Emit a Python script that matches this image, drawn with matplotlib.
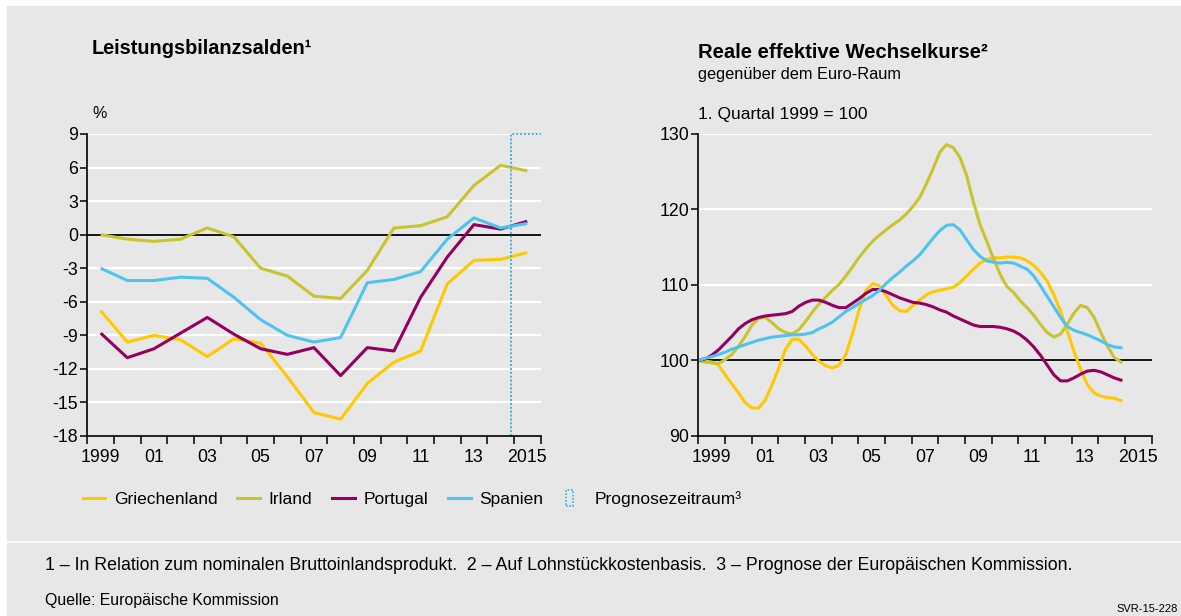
import numpy as np
import matplotlib
matplotlib.use("Agg")
import matplotlib.pyplot as plt
import matplotlib.patches as mpatches
from matplotlib.lines import Line2D
from matplotlib.legend_handler import HandlerPatch

plt.rcParams['font.family'] = ['Liberation Sans', 'DejaVu Sans']

# --- data -----------------------------------------------------------------
# Leistungsbilanzsalden, % of GDP, yearly 1999-2015 (2015 = forecast)
years = list(range(1999, 2016))
ca_griechenland = [-6.8, -9.6, -9.0, -9.4, -10.9, -9.3, -9.7, -12.7, -15.9, -16.5,
                   -13.3, -11.4, -10.4, -4.4, -2.3, -2.2, -1.6]
ca_irland = [0.0, -0.4, -0.6, -0.4, 0.6, -0.2, -3.0, -3.7, -5.5, -5.7,
             -3.2, 0.6, 0.8, 1.6, 4.4, 6.2, 5.7]
ca_portugal = [-8.8, -11.0, -10.2, -8.8, -7.4, -8.9, -10.2, -10.7, -10.1, -12.6,
               -10.1, -10.4, -5.6, -2.0, 0.9, 0.5, 1.2]
ca_spanien = [-3.0, -4.1, -4.1, -3.8, -3.9, -5.6, -7.6, -9.0, -9.6, -9.2,
              -4.3, -4.0, -3.3, -0.4, 1.5, 0.6, 1.0]
forecast_start = 2014.88

# Reale effektive Wechselkurse, quarterly 1999Q1-2014Q4, 1999Q1 = 100
reer_griechenland = [100, 99.9, 99.8, 99.4, 98.1, 96.9, 95.7, 94.4, 93.7, 93.7, 94.8, 96.8,
                     99.0, 101.5, 102.8, 102.8, 101.9, 100.8, 99.9, 99.3, 99.0, 99.4, 100.8,
                     103.6, 106.8, 109.3, 110.2, 109.9, 108.6, 107.3, 106.6, 106.5,
                     107.3, 108.0, 108.7, 109.1, 109.3, 109.5, 109.7, 110.3, 111.2, 112.1,
                     112.9, 113.4, 113.6, 113.6, 113.7, 113.7, 113.6, 113.2, 112.6, 111.7,
                     110.5, 108.7, 106.5, 103.9, 101.2, 98.8, 96.8, 95.7, 95.3, 95.1, 95.0, 94.7]
reer_irland = [100, 99.8, 99.7, 99.6, 100.1, 100.8, 101.9, 103.2, 104.7, 105.6, 105.7, 105.0,
               104.2, 103.7, 103.5, 104.1, 105.2, 106.4, 107.5, 108.4, 109.3, 110.1, 111.2,
               112.4, 113.7, 114.8, 115.8, 116.6, 117.3, 118.0, 118.6, 119.4, 120.4, 121.6,
               123.4, 125.4, 127.6, 128.6, 128.2, 126.9, 124.5, 121.0, 118.0, 115.8, 113.5,
               111.4, 109.8, 109.0, 107.9, 107.0, 106.0, 104.8, 103.7, 103.1, 103.5, 104.8,
               106.3, 107.3, 107.0, 105.7, 103.7, 101.9, 100.4, 99.8]
reer_portugal = [100, 100.2, 100.7, 101.4, 102.3, 103.2, 104.2, 104.9, 105.4, 105.7, 105.9,
                 106.0, 106.1, 106.2, 106.5, 107.2, 107.7, 108.0, 108.0, 107.7, 107.3, 107.0,
                 107.0, 107.6, 108.2, 108.9, 109.4, 109.4, 109.1, 108.7, 108.3, 108.0, 107.7,
                 107.6, 107.4, 107.1, 106.7, 106.4, 105.9, 105.5, 105.1, 104.7, 104.5, 104.5,
                 104.5, 104.4, 104.2, 103.9, 103.4, 102.7, 101.8, 100.7, 99.4, 98.1, 97.3,
                 97.3, 97.7, 98.2, 98.6, 98.7, 98.5, 98.1, 97.7, 97.4]
reer_spanien = [100, 100.3, 100.5, 100.8, 101.1, 101.5, 101.8, 102.1, 102.4, 102.7, 102.9,
                103.1, 103.2, 103.3, 103.4, 103.4, 103.5, 103.7, 104.2, 104.6, 105.1, 105.8,
                106.5, 107.0, 107.6, 108.1, 108.6, 109.3, 110.2, 111.0, 111.7, 112.5, 113.2,
                114.0, 115.1, 116.2, 117.2, 117.9, 118.0, 117.3, 116.0, 114.7, 113.8, 113.2,
                113.0, 112.9, 113.0, 112.9, 112.5, 112.1, 111.2, 109.9, 108.5, 107.1, 105.7,
                104.5, 104.0, 103.7, 103.4, 103.0, 102.6, 102.1, 101.8, 101.7]

tick_labels = ['1999', '01', '03', '05', '07', '09', '11', '13', '2015']
label_years = [1999, 2001, 2003, 2005, 2007, 2009, 2011, 2013, 2015]

names = ['Griechenland', 'Irland', 'Portugal', 'Spanien']
colors = ['#ffc800', '#c8c42e', '#94005f', '#4fc3f0']
forecast_color = '#3ab2e6'
bg = '#e7e7e7'

W, H = 1181, 616
fig = plt.figure(figsize=(W / 100, H / 100), dpi=100)
fig.patch.set_facecolor('white')


def fx(px):
    return px / W


def fy(py):
    return 1 - py / H


# grey panels (behind the axes)
fig.patches.append(mpatches.Rectangle((fx(7), fy(540)), fx(W - 7), (540 - 6) / H,
                                      transform=fig.transFigure, color=bg, zorder=-5))
fig.patches.append(mpatches.Rectangle((fx(7), 0), fx(W - 7), (H - 543) / H,
                                      transform=fig.transFigure, color=bg, zorder=-5))


def style_axes(ax, ylim, yticks, zero):
    ax.set_facecolor(bg)
    ax.set_xlim(1999, 2016)
    ax.set_ylim(*ylim)
    ax.set_yticks(yticks)
    for y in yticks:
        if y != ylim[0]:
            ax.axhline(y, color='white', lw=1.6, zorder=1)
    ax.axhline(zero, color='black', lw=1.3, zorder=2)
    for s in ['top', 'right']:
        ax.spines[s].set_visible(False)
    for s in ['left', 'bottom']:
        ax.spines[s].set_linewidth(1.2)
        ax.spines[s].set_zorder(5)
    ax.set_xticks(range(1999, 2017))
    ax.set_xticklabels([])
    ax.set_xticks([y + 0.5 for y in label_years], minor=True)
    ax.set_xticklabels(tick_labels, minor=True)
    ax.tick_params(axis='x', which='major', direction='out', length=6, width=1.1)
    ax.tick_params(axis='x', which='minor', length=0, pad=9, labelsize=12.8)
    ax.tick_params(axis='y', direction='out', length=5, width=1.1, pad=1.5, labelsize=12.8)


# left chart
ax1 = fig.add_axes([fx(87.3), fy(436), fx(453.3), 302 / H])
style_axes(ax1, (-18, 9), list(range(-18, 10, 3)), 0)
ax1.set_yticklabels([str(v) for v in range(-18, 10, 3)])
xs = [y + 0.5 for y in years]
for vals, c in zip([ca_griechenland, ca_irland, ca_portugal, ca_spanien], colors):
    ax1.plot(xs, vals, color=c, lw=2.2, zorder=3, solid_capstyle='butt')
ax1.plot([forecast_start, forecast_start, 2016], [-18, 9, 9], color=forecast_color,
         lw=1.4, ls=(0, (1, 1)), zorder=4, clip_on=False)

# right chart
ax2 = fig.add_axes([fx(698.3), fy(436), fx(453.3), 302 / H])
style_axes(ax2, (90, 130), [90, 100, 110, 120, 130], 100)
xq = np.linspace(1999, 2014.85, len(reer_griechenland))
for vals, c in zip([reer_griechenland, reer_irland, reer_portugal, reer_spanien], colors):
    ax2.plot(xq, vals, color=c, lw=2.2, zorder=3)

# titles
fig.text(fx(92), fy(48), 'Leistungsbilanzsalden¹', fontsize=14.3, fontweight='bold',
         va='center', ha='left')
fig.text(fx(92), fy(114), '%', fontsize=11.5, va='center', ha='left')
fig.text(fx(698), fy(52), 'Reale effektive Wechselkurse²', fontsize=14.6, fontweight='bold',
         va='center', ha='left')
fig.text(fx(698), fy(75), 'gegenüber dem Euro-Raum', fontsize=11.8, va='center', ha='left')
fig.text(fx(698), fy(115), '1. Quartal 1999 = 100', fontsize=12.5, va='center', ha='left')


# legend
def make_box(legend, orig_handle, xdescent, ydescent, width, height, fontsize):
    return mpatches.Rectangle((width * 0.1 - xdescent, -ydescent - height * 0.15),
                              width * 0.3, height * 1.3)


handles = [Line2D([], [], color=c, lw=2.2) for c in colors]
box = mpatches.Rectangle((0, 0), 1, 1, facecolor='none', edgecolor=forecast_color,
                         lw=1.2, ls=(0, (1, 1)))
handles.append(box)
labels = names + ['Prognosezeitraum³']
leg = fig.legend(handles, labels, loc='center left', bbox_to_anchor=(fx(67), fy(499)),
                 ncol=5, frameon=False, fontsize=12.5, handlelength=1.3,
                 handletextpad=0.5, columnspacing=1.15,
                 handler_map={mpatches.Rectangle: HandlerPatch(patch_func=make_box)})

# footnotes
fig.text(fx(45), fy(566), '1 – In Relation zum nominalen Bruttoinlandsprodukt.  '
         '2 – Auf Lohnstückkostenbasis.  3 – Prognose der Europäischen Kommission.',
         fontsize=12.75, va='center', ha='left')
fig.text(fx(45), fy(600), 'Quelle: Europäische Kommission', fontsize=11.4,
         va='center', ha='left')
fig.text(fx(1178), fy(609), 'SVR-15-228', fontsize=8, va='center', ha='right')

fig.savefig('out.png', dpi=100, facecolor=fig.get_facecolor())
